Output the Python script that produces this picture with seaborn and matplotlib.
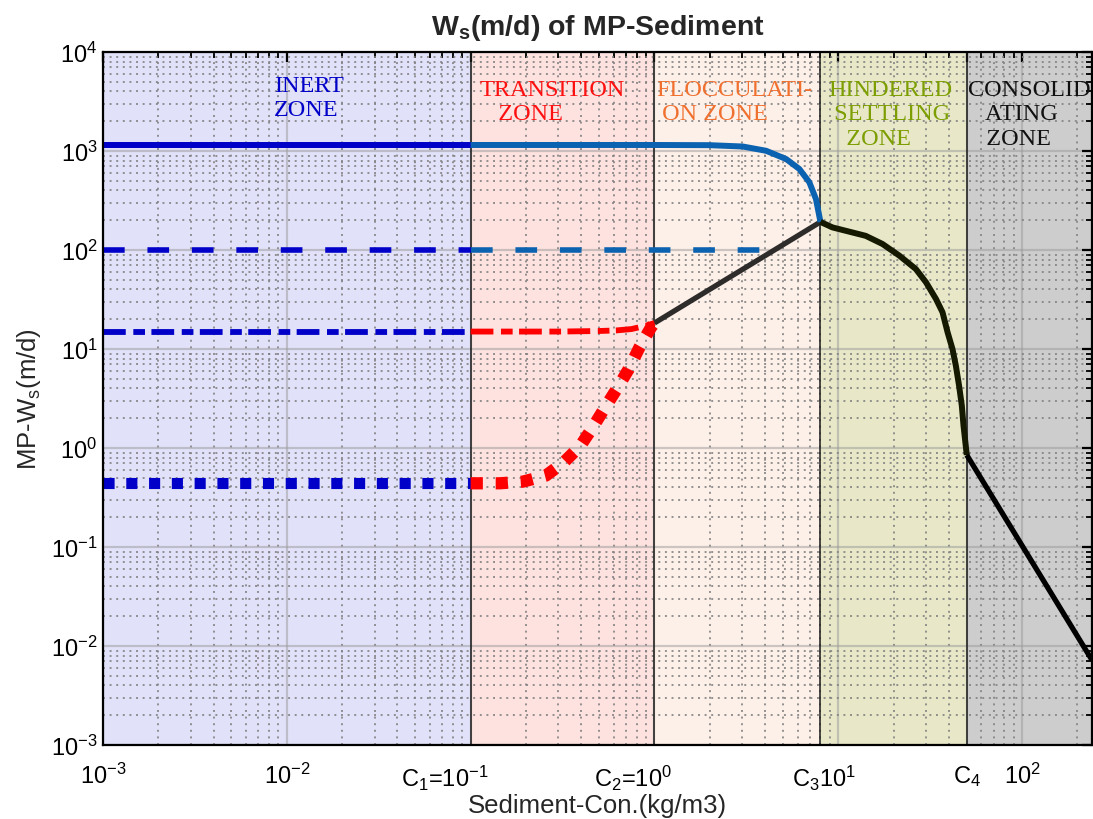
import numpy as np
import pandas as pd
import matplotlib
matplotlib.use("Agg")
import matplotlib.pyplot as plt
import matplotlib.transforms as mtransforms
from matplotlib.ticker import LogLocator, FixedLocator, FixedFormatter, LogFormatterMathtext, NullFormatter
import seaborn as sns

# ---------------- data ----------------
zone_edges = [1e-3, 0.1, 1.0, 8.0, 50.0, 240.0]
zone_fill = ["#e1e1fa", "#fde2df", "#fdf0e8", "#e8e8c9", "#cdcdcd"]

inert_c = [1e-3, 0.1]
solid_inert_w = [1150, 1150]
dashed_inert_w = [100, 100]
dashdot_inert_w = [15, 15]
dotted_inert_w = [0.44, 0.44]

solid_trans_c = [0.1, 1.0, 1.99, 3.02, 4.05, 5.2, 6.14, 6.96, 7.56, 8.0]
solid_trans_w = [1150, 1150, 1145, 1110, 1005, 830, 658, 483, 327, 192]
dashed_trans_c = [0.1, 4.3]
dashed_trans_w = [100, 100]
dashdot_trans_c = [0.1, 0.3, 0.5, 0.62, 0.75, 0.9, 1.0]
dashdot_trans_w = [15, 15, 15.2, 15.4, 15.9, 17.2, 18.3]
dotted_trans_c = [0.1, 0.144, 0.192, 0.256, 0.321, 0.395, 0.462, 0.535, 0.627, 0.725, 0.829, 0.959, 1.0]
dotted_trans_w = [0.44, 0.44, 0.457, 0.525, 0.716, 1.05, 1.62, 2.52, 4.01, 6.28, 10.4, 16.6, 18.3]

floc_c = [1.0, 8.0]
floc_w = [18.3, 192]
hind_c = [8.0, 9.31, 14.1, 17.4, 21.5, 26.4, 30.0, 34.0, 36.9, 39.3, 41.8, 43.6, 45.4, 47.0, 48.0, 50.0]
hind_w = [192, 169, 139, 115, 87.6, 64.3, 47.2, 32, 23.5, 14.8, 10.0, 6.8, 4.26, 2.67, 1.68, 0.85]
cons_c = [50.0, 240.0]
cons_w = [0.85, 0.0072]

x_ticks = [1e-3, 1e-2, 0.1, 1.0, 10.0, 50.0, 100.0]
x_tick_labels = [r"$10^{-3}$", r"$10^{-2}$", r"C$_1$=$10^{-1}$", r"C$_2$=$10^{0}$",
                 r"C$_3$$10^{1}$", r"C$_4$", r"$10^{2}$"]

zone_texts = ["INERT\nZONE", "TRANSITION\n   ZONE", "FLOCCULATI-\n ON ZONE",
              "HINDERED\n SETTLING\n   ZONE", "CONSOLID-\n   ATING\n   ZONE"]
zone_text_colors = ["#0000c8", "#ff1010", "#f07030", "#7c9e00", "#111111"]
zone_text_x = [0.0085, 0.112, 1.025, 8.8, 50.5]
zone_text_y = [5900, 5300, 5300, 5300, 5300]

# ---------------- style ----------------
sns.set_theme(style="white")
plt.rcParams["font.family"] = ["Liberation Sans", "DejaVu Sans"]
plt.rcParams["mathtext.fontset"] = "custom"
plt.rcParams["mathtext.rm"] = "Liberation Sans"
plt.rcParams["mathtext.it"] = "Liberation Sans"
plt.rcParams["mathtext.bf"] = "Liberation Sans:bold"

fig = plt.figure(figsize=(10.93, 8.2), dpi=100)
fig.patch.set_facecolor("white")
ax = fig.add_axes([103 / 1093, 74 / 820, 989 / 1093, 693 / 820])
ax.set_xscale("log")
ax.set_yscale("log")
ax.set_xlim(zone_edges[0], zone_edges[-1])
ax.set_ylim(1e-3, 1e4)
ax.set_facecolor("white")

for i in range(len(zone_fill)):
    ax.axvspan(zone_edges[i], zone_edges[i + 1], color=zone_fill[i], lw=0, zorder=0.5)
for e in zone_edges[1:-1]:
    ax.axvline(e, color="#1a1a1a", lw=1.1, zorder=1.8)

ax.set_axisbelow("line")
ax.grid(which="major", color="#9a9a9a", alpha=0.5, lw=1.6, ls="-")
ax.grid(which="minor", color="#808080", alpha=0.85, lw=1.4, ls=(0, (1.0, 2.4)))

dark_blue = "#0000c8"
light_blue = "#0b62b0"
red = "#ff0000"

solid = "-"
dashed = (0, (3.9, 4.1))
dashdot = (0, (3.9, 1.3, 2.0, 1.1))
dotted = (0, (1.0, 1.05))

def draw(c, w, color, lw, ls, z=3):
    sns.lineplot(x=c, y=w, ax=ax, color=color, lw=lw, linestyle=ls, sort=False,
                 estimator=None, legend=False, zorder=z, dash_capstyle="butt",
                 solid_capstyle="butt", solid_joinstyle="round")

# inert zone
draw(inert_c, solid_inert_w, dark_blue, 4.3, solid)
draw(inert_c, dashed_inert_w, dark_blue, 4.0, dashed)
draw(inert_c, dashdot_inert_w, dark_blue, 4.2, dashdot)
draw(inert_c, dotted_inert_w, dark_blue, 8.0, dotted)
# transition / flocculation
draw(solid_trans_c, solid_trans_w, light_blue, 4.3, solid)
draw(dashed_trans_c, dashed_trans_w, light_blue, 4.0, dashed)
draw(dashdot_trans_c, dashdot_trans_w, red, 4.2, dashdot)
draw(dotted_trans_c, dotted_trans_w, red, 8.8, dotted)
draw(floc_c, floc_w, "#2e2b2b", 3.8, solid, z=2.9)
# hindered / consolidation
draw(hind_c, hind_w, "#141900", 4.3, solid)
draw(cons_c, cons_w, "#000000", 3.8, solid)

# ---------------- ticks ----------------
ax.xaxis.set_major_locator(FixedLocator(x_ticks))
ax.xaxis.set_major_formatter(FixedFormatter(x_tick_labels))
ax.xaxis.set_minor_locator(LogLocator(base=10, subs=np.arange(2, 10), numticks=100))
ax.xaxis.set_minor_formatter(NullFormatter())
ax.yaxis.set_major_locator(LogLocator(base=10, numticks=100))
ax.yaxis.set_major_formatter(LogFormatterMathtext())
ax.yaxis.set_minor_locator(LogLocator(base=10, subs=np.arange(2, 10), numticks=100))
ax.yaxis.set_minor_formatter(NullFormatter())

ax.tick_params(which="major", direction="in", length=7, width=1.6, color="black",
               top=True, right=True, labelsize=17, labelcolor="black")
ax.tick_params(which="minor", direction="in", length=4.5, width=1.3, color="black",
               top=True, right=True)
ax.tick_params(axis="x", which="major", pad=13)
ax.tick_params(axis="y", which="major", pad=4)

offset = mtransforms.ScaledTranslation(18 / 100, 0, fig.dpi_scale_trans)
for lbl in ax.get_xticklabels()[2:5]:
    lbl.set_horizontalalignment("right")
    lbl.set_transform(lbl.get_transform() + offset)

for sp in ax.spines.values():
    sp.set_visible(True)
    sp.set_color("black")
    sp.set_linewidth(1.6)
    sp.set_zorder(5)

# ---------------- texts ----------------
for t, col, tx, ty in zip(zone_texts, zone_text_colors, zone_text_x, zone_text_y):
    ax.text(tx, ty, t, color=col, fontsize=17.5, ha="left", va="top",
            family=["Liberation Serif", "DejaVu Serif"], linespacing=1.2, zorder=4)

ax.set_title(r"$\mathbf{W_s}$(m/d) of MP-Sediment", fontsize=20.5, fontweight="bold", pad=13)
ax.set_xlabel("Sediment-Con.(kg/m3)", fontsize=18.5)
ax.xaxis.set_label_coords(0.5, -0.069)
ax.set_ylabel(r"MP-W$_\mathrm{s}$(m/d)", fontsize=18.5, labelpad=6)

fig.savefig("out.png", dpi=100)
